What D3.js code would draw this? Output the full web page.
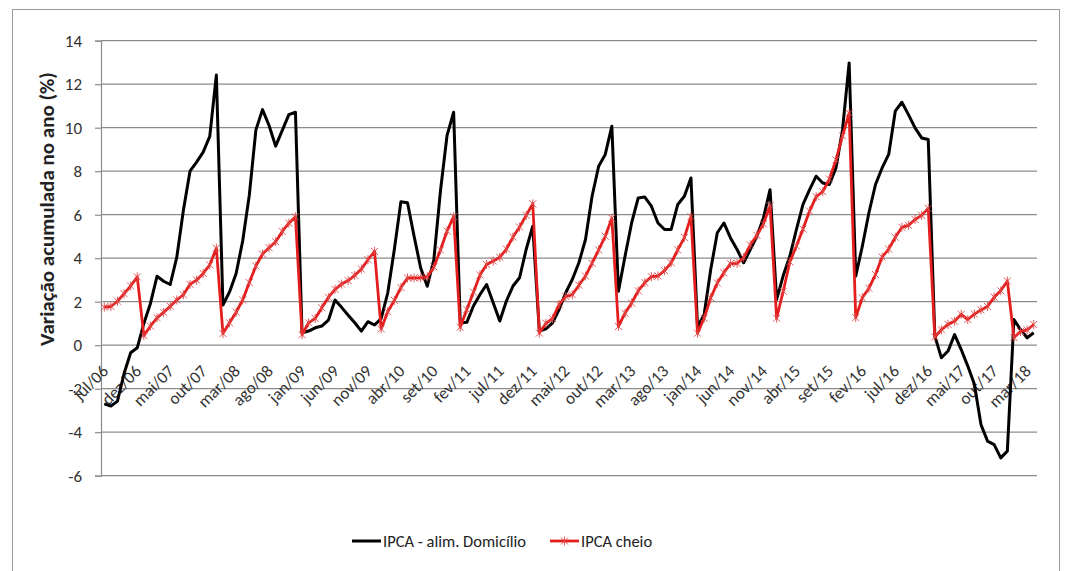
<!DOCTYPE html>
<html>
<head>
<meta charset="utf-8">
<script src="https://cdn.jsdelivr.net/npm/d3@7"></script>
<style>
  html, body { margin: 0; padding: 0; background: #fff; }
  svg { display: block; }
  text { font-family: Calibri, Carlito, "Liberation Sans Narrow", "Liberation Sans", Arial, sans-serif; }
</style>
</head>
<body>
<svg id="chart" width="1069" height="571"></svg>
<script>
(function () {
// ---- Data ----
const monthNames = ["jan","fev","mar","abr","mai","jun","jul","ago","set","out","nov","dez"];
// categories: monthly, jul/06 .. abr/18
const categories = [];
for (let yr = 2006; yr <= 2018; yr++) {
  for (let m = 0; m < 12; m++) {
    if (yr === 2006 && m < 6) continue;
    if (yr === 2018 && m > 3) continue;
    categories.push(monthNames[m] + "/" + String(yr).slice(2));
  }
}

// IPCA - alimentação no domicílio, variação acumulada no ano (%)
const alimDomicilio = [
  -2.70, -2.80, -2.57, -1.30, -0.35, -0.12,
  1.00, 1.92, 3.17, 2.94, 2.79, 4.05, 6.20, 8.00, 8.42, 8.88, 9.60, 12.42,
  1.85, 2.45, 3.30, 4.80, 6.90, 9.90, 10.83, 10.10, 9.15, 9.88, 10.60, 10.71,
  0.57, 0.65, 0.80, 0.88, 1.15, 2.08, 1.74, 1.38, 1.03, 0.65, 1.08, 0.93,
  1.22, 2.40, 4.40, 6.60, 6.55, 5.01, 3.55, 2.71, 3.94, 7.10, 9.65, 10.71,
  1.02, 1.05, 1.80, 2.33, 2.79, 1.95, 1.11, 2.03, 2.72, 3.10, 4.40, 5.47,
  0.65, 0.75, 1.03, 1.64, 2.41, 3.02, 3.79, 4.86, 6.85, 8.23, 8.77, 10.07,
  2.48, 4.09, 5.62, 6.77, 6.81, 6.39, 5.62, 5.32, 5.32, 6.47, 6.85, 7.69,
  0.85, 1.40, 3.48, 5.17, 5.62, 4.93, 4.40, 3.79, 4.40, 5.01, 5.85, 7.15,
  2.10, 3.20, 4.09, 5.32, 6.47, 7.15, 7.77, 7.46, 7.39, 8.15, 9.92, 12.98,
  3.17, 4.55, 6.09, 7.39, 8.15, 8.77, 10.76, 11.17, 10.60, 9.99, 9.53, 9.46,
  0.42, -0.58, -0.27, 0.49, -0.20, -0.96, -1.80, -3.65, -4.41, -4.57, -5.18, -4.87,
  1.18, 0.72, 0.34, 0.57
];

// IPCA cheio, variação acumulada no ano (%)
const ipcaCheio = [
  1.75, 1.78, 2.02, 2.37, 2.72, 3.14,
  0.44, 0.88, 1.26, 1.51, 1.79, 2.08, 2.32, 2.80, 2.99, 3.30, 3.69, 4.46,
  0.54, 1.03, 1.52, 2.08, 2.88, 3.64, 4.19, 4.48, 4.76, 5.23, 5.61, 5.90,
  0.48, 1.03, 1.23, 1.72, 2.20, 2.57, 2.81, 2.97, 3.21, 3.50, 3.93, 4.31,
  0.75, 1.54, 2.06, 2.65, 3.09, 3.09, 3.10, 3.14, 3.60, 4.38, 5.25, 5.91,
  0.83, 1.64, 2.44, 3.23, 3.71, 3.87, 4.04, 4.42, 4.97, 5.43, 5.97, 6.50,
  0.56, 1.01, 1.22, 1.87, 2.24, 2.32, 2.76, 3.18, 3.77, 4.38, 5.01, 5.84,
  0.86, 1.47, 1.94, 2.50, 2.88, 3.15, 3.18, 3.43, 3.79, 4.38, 4.95, 5.91,
  0.55, 1.24, 2.18, 2.86, 3.33, 3.75, 3.76, 4.02, 4.61, 5.05, 5.58, 6.41,
  1.24, 2.48, 3.83, 4.56, 5.34, 6.17, 6.83, 7.06, 7.64, 8.52, 9.62, 10.67,
  1.27, 2.18, 2.62, 3.25, 4.05, 4.42, 4.96, 5.42, 5.51, 5.78, 5.97, 6.29,
  0.38, 0.71, 0.96, 1.10, 1.42, 1.18, 1.43, 1.62, 1.78, 2.21, 2.50, 2.95,
  0.35, 0.63, 0.70, 0.95
];

const tickLabels = ["jul/06","dez/06","mai/07","out/07","mar/08","ago/08","jan/09","jun/09","nov/09",
  "abr/10","set/10","fev/11","jul/11","dez/11","mai/12","out/12","mar/13","ago/13","jan/14","jun/14",
  "nov/14","abr/15","set/15","fev/16","jul/16","dez/16","mai/17","out/17","mar/18"];
const yTicks = [-6, -4, -2, 0, 2, 4, 6, 8, 10, 12, 14];
const seriesNames = ["IPCA - alim. Domicílio", "IPCA cheio"];

// ---- Chart ----
const svg = d3.select("#chart");
const FONT = 'Calibri, Carlito, "Liberation Sans Narrow", "Liberation Sans", Arial, sans-serif';

// chart area border
svg.append("rect").attr("x", 12.5).attr("y", 9.5).attr("width", 1047).attr("height", 575)
  .attr("fill", "#fff").attr("stroke", "#9a9a9a").attr("stroke-width", 1);

const pLeft = 101, pRight = 1037, pTop = 40.7, pBottom = 475.7;

const x = d3.scaleBand().domain(d3.range(categories.length)).range([pLeft, pRight]).padding(0);
const cx = i => x(i) + x.bandwidth() / 2;
const y = d3.scaleLinear().domain([-6, 14]).range([pBottom, pTop]);

// y axis
const yAxis = d3.axisLeft(y).tickValues(yTicks).tickSize(6).tickPadding(6).tickFormat(d => String(d));
const gy = svg.append("g").attr("transform", `translate(${pLeft},0)`).call(yAxis);
gy.select(".domain").attr("stroke", "#8c8c8c").attr("stroke-width", 1.2);
gy.selectAll(".tick line").attr("stroke", "#8c8c8c").attr("stroke-width", 1.2);
gy.selectAll(".tick text").attr("font-size", 17).attr("fill", "#333").attr("x", -19)
  .style("font-family", FONT);

// gridlines
svg.append("g").selectAll("line").data(yTicks).join("line")
  .attr("x1", pLeft).attr("x2", pRight)
  .attr("y1", d => y(d)).attr("y2", d => y(d))
  .attr("stroke", "#8c8c8c").attr("stroke-width", 1.2);

// x labels (axis crosses at 0, labels hang below)
const labelIdx = tickLabels.map(l => categories.indexOf(l));
svg.append("g").selectAll("text").data(labelIdx).join("text")
  .attr("transform", i => `translate(${cx(i) + 5},${y(0) + 27}) rotate(-45)`)
  .attr("text-anchor", "end")
  .attr("font-size", 17)
  .attr("fill", "#333")
  .text(i => categories[i]);

// y-axis title
svg.append("text")
  .attr("transform", `translate(54,209) rotate(-90)`)
  .attr("text-anchor", "middle")
  .attr("font-size", 21)
  .attr("font-weight", "bold")
  .attr("fill", "#222")
  .text("Variação acumulada no ano (%)");

// lines
const line = d3.line().x((d, i) => cx(i)).y(d => y(d));
const blackColor = "#000", redColor = "#e41e1e";

svg.append("path").datum(alimDomicilio)
  .attr("d", line).attr("fill", "none").attr("stroke", blackColor)
  .attr("stroke-width", 3).attr("stroke-linejoin", "round");

svg.append("path").datum(ipcaCheio)
  .attr("d", line).attr("fill", "none").attr("stroke", redColor)
  .attr("stroke-width", 2.8).attr("stroke-linejoin", "round");

const starPath = "M-3.5,-3.5L3.5,3.5M-3.5,3.5L3.5,-3.5M0,-4.5L0,4.5";
svg.append("g").selectAll("path").data(ipcaCheio).join("path")
  .attr("transform", (d, i) => `translate(${cx(i)},${y(d)})`)
  .attr("d", starPath)
  .attr("fill", "none").attr("stroke", "#e04848").attr("stroke-width", 0.9);

// legend
const lg = svg.append("g");
const ly = 541;
lg.append("line").attr("x1", 352).attr("x2", 381).attr("y1", ly).attr("y2", ly)
  .attr("stroke", blackColor).attr("stroke-width", 3);
lg.append("text").attr("x", 383).attr("y", ly + 6).attr("font-size", 16.5).attr("fill", "#222")
  .text(seriesNames[0]);
lg.append("line").attr("x1", 550).attr("x2", 579).attr("y1", ly).attr("y2", ly)
  .attr("stroke", redColor).attr("stroke-width", 2.8);
lg.append("path").attr("transform", `translate(564.5,${ly})`).attr("d", starPath)
  .attr("fill", "none").attr("stroke", "#e04848").attr("stroke-width", 0.9);
lg.append("text").attr("x", 581).attr("y", ly + 6).attr("font-size", 16.5).attr("fill", "#222")
  .text(seriesNames[1]);
})();
</script>
</body>
</html>
